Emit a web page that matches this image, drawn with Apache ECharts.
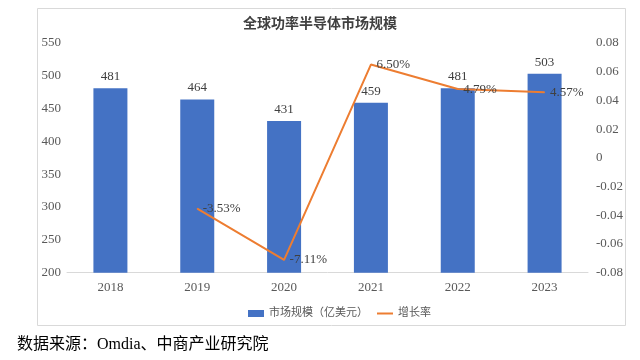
<!DOCTYPE html>
<html>
<head>
<meta charset="utf-8">
<script src="https://cdn.jsdelivr.net/npm/echarts@6/dist/echarts.min.js"></script>
<style>
html,body{margin:0;padding:0;background:#fff;}
#c{width:640px;height:360px;}
</style>
</head>
<body>
<div id="c"></div>
<script>
const categories = ['2018','2019','2020','2021','2022','2023'];
const marketSize = [481, 464, 431, 459, 481, 503];
const growthRate = [null, -0.0353, -0.0711, 0.0650, 0.0479, 0.0457];
const titleText = '全球功率半导体市场规模';
const barName = '市场规模（亿美元）';
const lineName = '增长率';
const sourceText = '数据来源：Omdia、中商产业研究院';

const FONT = '"Liberation Serif", "Noto Sans CJK SC", serif';
const chart = echarts.init(document.getElementById('c'), null, {renderer:'canvas'});
chart.setOption({
  backgroundColor: '#fff',
  animation: false,
  title: {
    text: titleText, left: 'center', top: 12,
    textStyle: {fontFamily: FONT, fontSize: 14, fontWeight: 'bold', color: '#404040'}
  },
  graphic: [
    {type:'rect', shape:{x:37.5, y:8.5, width:588, height:317}, style:{fill:'none', stroke:'#D9D9D9', lineWidth:1}, z:-1},
    {type:'text', left:17, top:337, style:{text: sourceText, font: '16px "Liberation Serif", "Noto Sans CJK SC"', fill:'#000'}}
  ],
  legend: {
    top: 303, left: 243, itemWidth: 16, itemHeight: 7, itemGap: 8,
    textStyle: {fontFamily: FONT, fontSize: 11, color: '#595959'},
    data: [{name: barName, icon: 'rect'}, {name: lineName, itemStyle: {opacity: 0}}]
  },
  grid: {left: 67, right: 52, top: 43, bottom: 87.3},
  xAxis: {
    type: 'category', data: categories,
    axisLine: {onZero: false, lineStyle: {color: '#D9D9D9'}},
    axisTick: {show: false},
    axisLabel: {fontFamily: FONT, fontSize: 13, color: '#595959', margin: 8}
  },
  yAxis: [
    {type:'value', min:200, max:550, interval:50,
     splitLine:{show:false}, axisLine:{show:false}, axisTick:{show:false},
     axisLabel:{fontFamily: FONT, fontSize: 13, color:'#595959', margin: 6}},
    {type:'value', min:-0.08, max:0.08, interval:0.02, position:'right',
     splitLine:{show:false}, axisLine:{show:false}, axisTick:{show:false},
     axisLabel:{fontFamily: FONT, fontSize: 13, color:'#595959', margin: 8,
       formatter: v => String(Number(v.toFixed(2)))}}
  ],
  series: [
    {name: barName, type:'bar', data: marketSize, barWidth: 34,
     itemStyle:{color:'#4472C4'},
     label:{show:true, position:'top', distance:5, fontFamily: FONT, fontSize:13, color:'#404040'}},
    {name: lineName, type:'line', yAxisIndex:1, data: growthRate,
     symbol:'circle', symbolSize:1, showSymbol:true,
     itemStyle:{color:'#ED7D31'}, lineStyle:{color:'#ED7D31', width:2},
     label:{show:true, position:'right', distance:5, fontFamily: FONT, fontSize:13, color:'#404040',
       formatter: p => (p.value*100).toFixed(2) + '%'}}
  ]
});
</script>
</body>
</html>
